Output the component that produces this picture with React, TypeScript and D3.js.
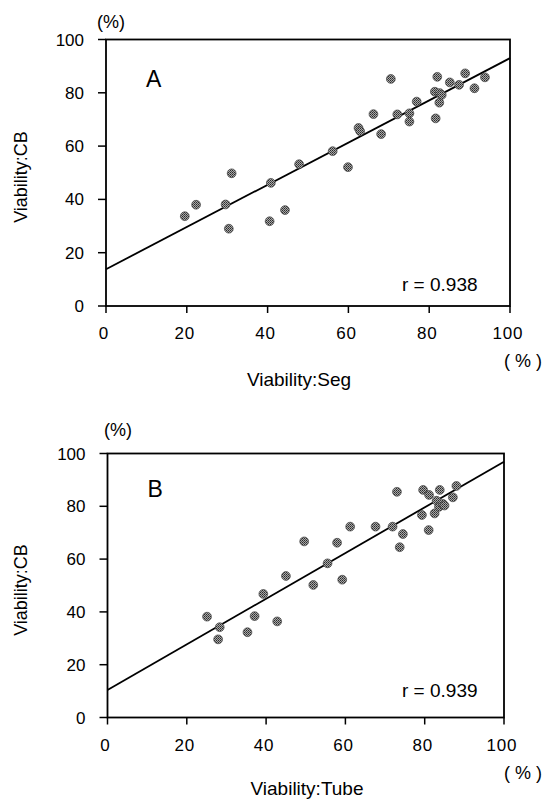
import { useEffect, useRef } from "react";
import * as d3 from "d3";

// panel A: Viability Seg vs CB
const segX = [19.5, 22.3, 29.6, 30.4, 31.1, 40.8, 40.5, 44.3, 47.8, 56.1, 59.9, 62.5, 62.9, 66.2, 68.1, 70.5, 72.1, 75.1, 75.1, 76.9, 81.6, 81.4, 82.0, 82.5, 82.6, 83.1, 85.1, 87.4, 88.9, 91.2, 93.8];
const segCB = [33.7, 38.0, 38.1, 29.0, 49.8, 46.2, 31.8, 36.0, 53.2, 58.1, 52.1, 66.8, 65.6, 72.0, 64.5, 85.2, 71.9, 72.3, 69.2, 76.7, 70.4, 80.4, 86.0, 76.3, 79.9, 79.2, 83.9, 83.0, 87.3, 81.7, 85.8];
const segFit = [13.8, 93.0]; // CB at x=0 and x=100

// panel B: Viability Tube vs CB
const tubeX = [25.1, 28.3, 27.9, 35.3, 37.1, 39.3, 42.8, 45.0, 49.6, 51.9, 55.5, 57.9, 59.2, 61.2, 67.6, 71.9, 73.0, 73.7, 74.5, 79.3, 79.6, 81.0, 81.1, 82.5, 83.0, 83.6, 83.8, 84.6, 85.0, 87.1, 88.0];
const tubeCB = [38.2, 34.2, 29.6, 32.3, 38.4, 46.8, 36.4, 53.6, 66.7, 50.2, 58.4, 66.2, 52.2, 72.3, 72.3, 72.3, 85.5, 64.5, 69.5, 76.7, 86.2, 71.0, 84.3, 77.3, 82.1, 79.8, 86.2, 80.9, 80.3, 83.4, 87.7];
const tubeFit = [10.4, 96.9];

const tickVals = [0, 20, 40, 60, 80, 100];

const FONT = "'Liberation Sans', Arial, Helvetica, sans-serif";

function drawPanel(svg, o) {
  const x = d3.scaleLinear().domain([0, 100]).range([o.x0, o.x1]);
  const y = d3.scaleLinear().domain([0, 100]).range([o.y0, o.y1]);
  const g = svg.append("g");

  // frame
  g.append("rect")
    .attr("x", o.x0).attr("y", o.y1)
    .attr("width", o.x1 - o.x0).attr("height", o.y0 - o.y1)
    .attr("fill", "none").attr("stroke", "#000").attr("stroke-width", 1.8);

  // y ticks
  g.selectAll("line.yt").data(tickVals).join("line")
    .attr("class", "yt")
    .attr("x1", o.x0 - 8).attr("x2", o.x0)
    .attr("y1", (d) => y(d)).attr("y2", (d) => y(d))
    .attr("stroke", "#000").attr("stroke-width", 1.5);
  g.selectAll("text.yl").data(tickVals).join("text")
    .attr("class", "yl")
    .attr("x", o.x0 - 22).attr("y", (d) => y(d) + 6)
    .attr("text-anchor", "end")
    .style("font-size", "17px").style("font-family", FONT)
    .text((d) => d);

  // x ticks
  g.selectAll("line.xt").data(tickVals).join("line")
    .attr("class", "xt")
    .attr("x1", (d) => x(d)).attr("x2", (d) => x(d))
    .attr("y1", o.y0).attr("y2", o.y0 + 7)
    .attr("stroke", "#000").attr("stroke-width", 1.5);
  g.selectAll("text.xl").data(tickVals).join("text")
    .attr("class", "xl")
    .attr("x", (d) => x(d) - 2).attr("y", o.y0 + 33)
    .attr("text-anchor", "middle")
    .style("font-size", "17px").style("font-family", FONT)
    .style("letter-spacing", "0.8px")
    .text((d) => d);

  // regression line
  g.append("line")
    .attr("x1", x(0)).attr("y1", y(o.fit[0]))
    .attr("x2", x(100)).attr("y2", y(o.fit[1]))
    .attr("stroke", "#000").attr("stroke-width", 1.8);

  // points
  const pts = o.xs.map((v, i) => ({ x: v, y: o.ys[i] }));
  g.selectAll("circle").data(pts).join("circle")
    .attr("cx", (d) => x(d.x)).attr("cy", (d) => y(d.y))
    .attr("r", 4.4)
    .attr("fill", "url(#dots)")
    .attr("stroke", "#444").attr("stroke-width", 0.7);

  const txt = (tx, ty, s, size, anchor = "start") =>
    g.append("text")
      .attr("x", tx).attr("y", ty)
      .attr("text-anchor", anchor)
      .style("font-size", size + "px").style("font-family", FONT)
      .text(s);

  txt(o.pctTop[0], o.pctTop[1], "(%)", 18, "middle");
  txt(o.x0 + 40, o.letterY, o.letter, 23);
  txt(402, o.rY, o.r, 19);
  txt(523, o.y0 + 61, "( % )", 18, "middle");
  txt(o.titleX, o.titleY, o.xTitle, 19, "middle");

  g.append("text")
    .attr("transform", `translate(27,${o.yTitleY}) rotate(-90)`)
    .attr("text-anchor", "middle")
    .style("font-size", "18px").style("font-family", FONT)
    .text("Viability:CB");
}

export default function App() {
  const ref = useRef(null);

  useEffect(() => {
    const svg = d3.select(ref.current);
    svg.selectAll("*").remove();

    const pat = svg.append("defs").append("pattern")
      .attr("id", "dots").attr("patternUnits", "userSpaceOnUse")
      .attr("width", 2).attr("height", 2);
    pat.append("rect").attr("width", 2).attr("height", 2).attr("fill", "#a8a8a8");
    pat.append("rect").attr("width", 1).attr("height", 1).attr("fill", "#2a2a2a");
    pat.append("rect").attr("x", 1).attr("y", 1).attr("width", 1).attr("height", 1).attr("fill", "#4a4a4a");

    drawPanel(svg, {
      x0: 106, x1: 510, y0: 306, y1: 39.5,
      xs: segX, ys: segCB, fit: segFit,
      letter: "A", letterY: 87, r: "r = 0.938", rY: 291,
      pctTop: [111, 28], xTitle: "Viability:Seg", titleX: 299, titleY: 386,
      yTitleY: 177,
    });
    drawPanel(svg, {
      x0: 107.5, x1: 504, y0: 717.5, y1: 453.5,
      xs: tubeX, ys: tubeCB, fit: tubeFit,
      letter: "B", letterY: 497, r: "r = 0.939", rY: 697,
      pctTop: [118, 436], xTitle: "Viability:Tube", titleX: 307, titleY: 795,
      yTitleY: 590,
    });
  }, []);

  return (
    <svg
      ref={ref}
      width={553}
      height={800}
      style={{ position: "absolute", left: 0, top: 0, background: "#fff" }}
    ></svg>
  );
}
